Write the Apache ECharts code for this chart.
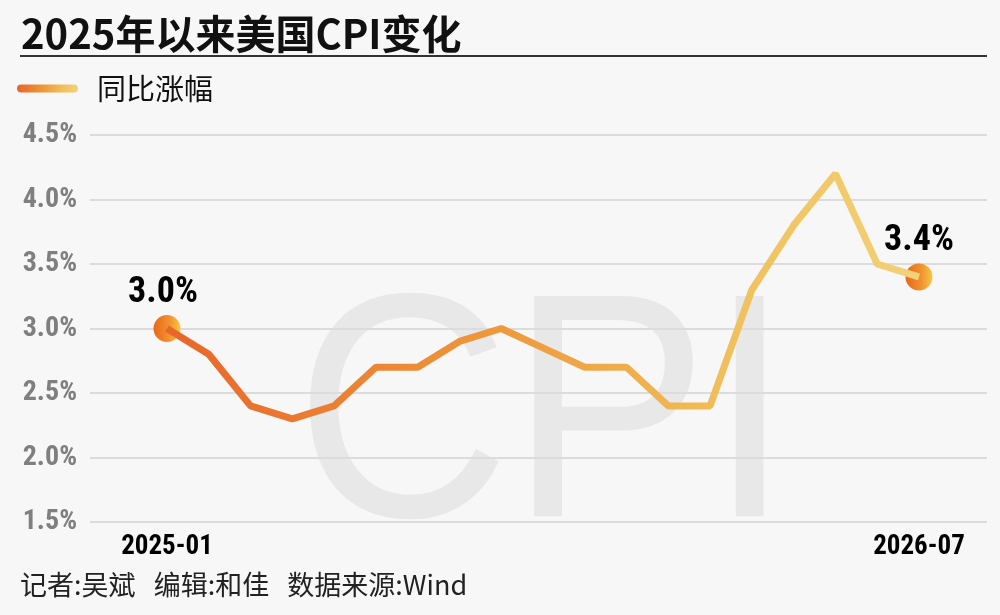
<!DOCTYPE html>
<html>
<head>
<meta charset="utf-8">
<script src="https://cdn.jsdelivr.net/npm/echarts@6/dist/echarts.min.js"></script>
<style>
  html, body { margin: 0; padding: 0; background: #f7f7f7; }
  #chart { width: 1000px; height: 615px; }
</style>
</head>
<body>
<div id="chart"></div>
<script>
// ---- data ----
const months = ['2025-01','2025-02','2025-03','2025-04','2025-05','2025-06','2025-07','2025-08','2025-09','2025-10','2025-11','2025-12','2026-01','2026-02','2026-03','2026-04','2026-05','2026-06','2026-07'];
const cpiYoY = [3.0, 2.8, 2.4, 2.3, 2.4, 2.7, 2.7, 2.9, 3.0, 2.85, 2.7, 2.7, 2.4, 2.4, 3.3, 3.8, 4.2, 3.5, 3.4];
const yTicks = [1.5, 2.0, 2.5, 3.0, 3.5, 4.0, 4.5];
const xLabelIdx = [0, months.length - 1];
const seriesName = '同比涨幅';
const titleText = '2025年以来美国CPI变化';
const footerText = '记者:吴斌   编辑:和佳   数据来源:Wind';
const watermarkText = 'CPI';

// ---- chart ----
const NARROW = "'Liberation Sans Narrow', 'Arial Narrow', 'Roboto Condensed', 'DejaVu Sans Condensed', sans-serif";
const CJK = "'Noto Sans CJK SC', 'Noto Sans', sans-serif";

const lineGrad = new echarts.graphic.LinearGradient(0, 0, 1, 0, [
  { offset: 0, color: '#E8652A' },
  { offset: 0.45, color: '#EE9A3C' },
  { offset: 0.75, color: '#F0C05C' },
  { offset: 1, color: '#F2D27A' }
]);
const dotGrad = new echarts.graphic.LinearGradient(0, 0, 1, 0, [
  { offset: 0, color: '#EA661C' },
  { offset: 0.6, color: '#F09430' },
  { offset: 1, color: '#F5C842' }
]);

const lineData = cpiYoY.map((v, i) => [i, v]);
const endData = xLabelIdx.map((i, k) => ({
  value: [i, cpiYoY[i]],
  label: k === 0 ? { offset: [-4, 0] } : {}
}));

const chart = echarts.init(document.getElementById('chart'), null, { renderer: 'canvas' });
chart.setOption({
  backgroundColor: '#f7f7f7',
  animation: false,
  title: [
    {
      text: titleText,
      left: 21, top: 14,
      padding: 0,
      textStyle: { fontFamily: CJK, fontSize: 40, fontWeight: 'bold', color: '#111' }
    },
    {
      text: footerText,
      left: 20, top: 571,
      padding: 0,
      textStyle: { fontFamily: CJK, fontSize: 27, fontWeight: 'normal', color: '#222' }
    }
  ],
  legend: {
    data: [seriesName],
    left: 17, top: 74,
    padding: 0,
    itemWidth: 61, itemHeight: 8,
    icon: 'path://M4,0 L57,0 A4,4 0 0 1 57,8 L4,8 A4,4 0 0 1 4,0 Z',
    textStyle: { fontFamily: CJK, fontSize: 29, color: '#111', padding: [0, 0, 0, 14] },
    selectedMode: false
  },
  graphic: [
    {
      type: 'line', z: 1,
      shape: { x1: 20, y1: 56, x2: 987, y2: 56 },
      style: { stroke: '#333', lineWidth: 2 }
    },
    {
      type: 'text', z: -1, silent: true,
      x: 543, y: 428,
      scaleX: 0.93,
      style: {
        text: watermarkText,
        font: "320px 'Liberation Sans', Arial, sans-serif",
        fill: '#e8e8e8',
        textAlign: 'center',
        textVerticalAlign: 'middle'
      }
    }
  ],
  grid: { left: 90, right: 13, top: 135, bottom: 93 },
  xAxis: {
    type: 'value',
    min: -1.843, max: 19.628,
    axisLine: { show: false },
    axisTick: { show: false },
    splitLine: { show: false },
    axisLabel: {
      customValues: xLabelIdx,
      formatter: v => months[Math.round(v)] || '',
      margin: 12,
      fontFamily: NARROW, fontSize: 27, fontWeight: 'bold', color: '#000'
    }
  },
  yAxis: {
    type: 'value',
    min: yTicks[0], max: yTicks[yTicks.length - 1], interval: 0.5,
    axisLine: { show: false },
    axisTick: { show: false },
    splitLine: { lineStyle: { color: '#dcdcdc', width: 2 } },
    axisLabel: {
      formatter: v => v.toFixed(1) + '%',
      margin: 13,
      fontFamily: NARROW, fontSize: 28, fontWeight: 'bold', color: '#7f7f7f'
    }
  },
  series: [
    {
      name: 'ends',
      type: 'scatter',
      z: 2,
      silent: true,
      symbol: 'circle',
      symbolSize: 27,
      itemStyle: { color: dotGrad, opacity: 1 },
      label: {
        show: true,
        position: 'top',
        distance: 4,
        formatter: p => p.value[1].toFixed(1) + '%',
        fontFamily: NARROW, fontSize: 36, fontWeight: 'bold', color: '#000'
      },
      data: endData
    },
    {
      name: seriesName,
      type: 'line',
      z: 3,
      silent: true,
      symbol: 'none',
      lineStyle: { color: lineGrad, width: 7 },
      itemStyle: { color: lineGrad },
      data: lineData
    }
  ]
});
</script>
</body>
</html>
